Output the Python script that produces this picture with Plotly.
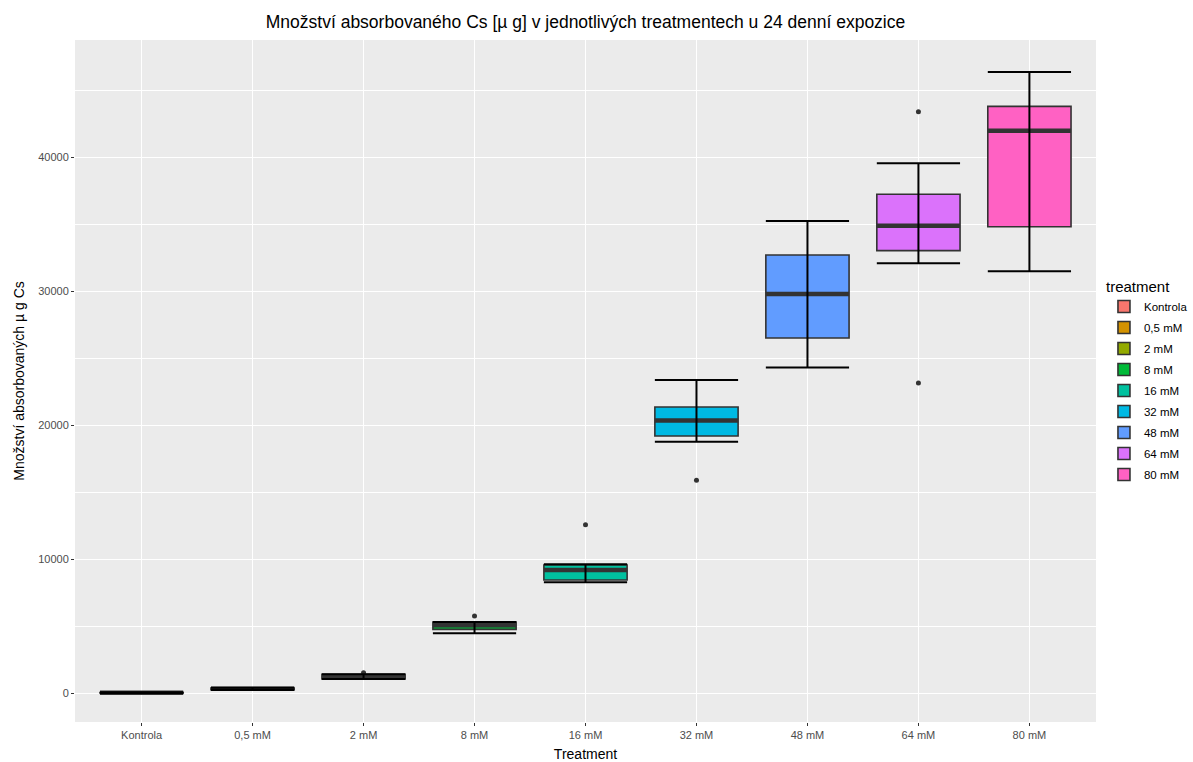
import plotly.graph_objects as go

categories = ["Kontrola", "0,5 mM", "2 mM", "8 mM", "16 mM", "32 mM", "48 mM", "64 mM", "80 mM"]
q1 = [5, 250, 1050, 4750, 8430, 19180, 26490, 33010, 34800]
median = [20, 310, 1220, 5050, 9180, 20340, 29780, 34870, 41960]
q3 = [40, 370, 1400, 5300, 9550, 21340, 32690, 37220, 43780]
whisker_min = [0, 230, 1050, 4450, 8260, 18750, 24300, 32070, 31470]
whisker_max = [60, 390, 1400, 5300, 9600, 23360, 35220, 39530, 46340]
outliers = {"2 mM": [1515], "8 mM": [5750], "16 mM": [12560], "32 mM": [15870], "64 mM": [43380, 23130]}
colors = ["#F8766D", "#D39200", "#93AA00", "#00BA38", "#00C19F", "#00B9E3", "#619CFF", "#DB72FB", "#FF61C3"]

FONT = "Liberation Sans, Arial, sans-serif"
half = 0.375

fig = go.Figure()
for i, cat in enumerate(categories):
    fig.add_trace(go.Box(
        x=[i], q1=[q1[i]], median=[median[i]], q3=[q3[i]],
        lowerfence=[q1[i]], upperfence=[q3[i]],
        width=0.75, whiskerwidth=0, boxpoints=False,
        fillcolor=colors[i], line=dict(color="#333333", width=1.6),
        name=cat, legendgroup=cat, showlegend=True, hoverinfo="skip",
    ))
for i, cat in enumerate(categories):
    # thick median
    fig.add_trace(go.Scatter(
        x=[i - half, i + half], y=[median[i], median[i]], mode="lines",
        line=dict(color="#333333", width=4.5), legendgroup=cat, showlegend=False, hoverinfo="skip",
    ))
    # outliers
    if cat in outliers:
        fig.add_trace(go.Scatter(
            x=[i] * len(outliers[cat]), y=outliers[cat], mode="markers",
            marker=dict(color="#333333", size=5), legendgroup=cat, showlegend=False, hoverinfo="skip",
        ))
for i, cat in enumerate(categories):
    # error bar whiskers
    fig.add_trace(go.Scatter(
        x=[i - half, i + half, None, i, i, None, i - half, i + half],
        y=[whisker_max[i], whisker_max[i], None, whisker_max[i], whisker_min[i], None, whisker_min[i], whisker_min[i]],
        mode="lines", line=dict(color="black", width=2), legendgroup=cat, showlegend=False, hoverinfo="skip",
    ))

fig.update_layout(
    width=1193, height=762,
    margin=dict(l=75, r=97, t=40, b=40, autoexpand=False),
    paper_bgcolor="white", plot_bgcolor="#EBEBEB",
    font=dict(family=FONT, color="black"),
    title=dict(text="Množství absorbovaného Cs [µ g] v jednotlivých treatmentech u 24 denní expozice",
               x=0.5, xref="paper", xanchor="center", y=1 - 22 / 762, yref="container", yanchor="middle",
               font=dict(size=17.5, family=FONT, color="black")),
    legend=dict(title=dict(text="treatment", font=dict(size=15, family=FONT)),
                font=dict(size=11.5, family=FONT), x=1.0078, xanchor="left", y=0.5, yanchor="middle",
                itemwidth=30, tracegroupgap=2, bgcolor="rgba(0,0,0,0)"),
    showlegend=True,
)
fig.update_xaxes(
    range=[-0.6, 8.6], tickmode="array", tickvals=list(range(len(categories))), ticktext=categories,
    showgrid=True, gridcolor="white", gridwidth=1.1, zeroline=False, automargin=False,
    ticks="outside", ticklen=3, tickcolor="#333333", tickwidth=1,
    tickfont=dict(size=11, color="#4D4D4D", family=FONT),
    title=dict(text="Treatment", font=dict(size=14, family=FONT), standoff=9),
)
fig.update_yaxes(
    range=[-2164, 48731], tickmode="array", tickvals=[0, 10000, 20000, 30000, 40000],
    ticktext=["0", "10000", "20000", "30000", "40000"],
    showgrid=True, gridcolor="white", gridwidth=1.1, zeroline=False, automargin=False,
    minor=dict(tickmode="array", tickvals=[5000, 15000, 25000, 35000, 45000], showgrid=True,
               gridcolor="white", gridwidth=0.5, ticks=""),
    ticks="outside", ticklen=3, tickcolor="#333333", tickwidth=1,
    tickfont=dict(size=11, color="#4D4D4D", family=FONT),
    title=dict(text="Množství absorbovaných µ g Cs", font=dict(size=14, family=FONT), standoff=10),
)

fig.write_html("out.html")
